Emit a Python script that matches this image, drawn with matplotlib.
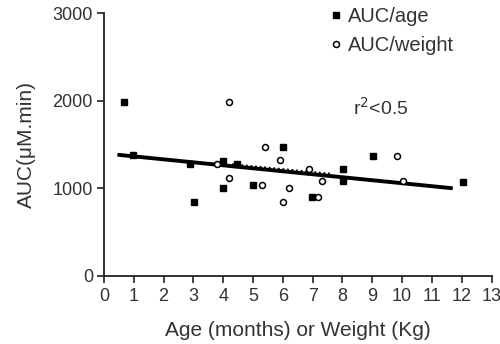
import matplotlib
matplotlib.use("Agg")
import matplotlib.pyplot as plt

plt.rcParams['font.family'] = ['Liberation Sans', 'DejaVu Sans']

# AUC vs age (filled squares)
age_x = [0.68, 0.98, 2.89, 3.02, 3.99, 3.99, 4.46, 5.0, 6.0, 6.98, 8.02, 8.02, 9.03, 12.05]
age_y = [1985, 1380, 1277, 844, 1311, 1003, 1277, 1038, 1471, 900, 1220, 1083, 1368, 1072]

# AUC vs weight (open circles)
wt_x = [4.19, 5.4, 5.9, 3.79, 4.19, 5.3, 6.2, 6.0, 6.88, 7.3, 7.18, 9.83, 10.03]
wt_y = [1985, 1471, 1320, 1277, 1117, 1038, 1003, 844, 1220, 1083, 900, 1368, 1083]

# regression lines
fit_x = [0.45, 11.7]
fit_y = [1383, 1000]
fit2_x = [4.3, 7.6]
fit2_y = [1268, 1160]

x_ticks = list(range(0, 14))
y_ticks = [0, 1000, 2000, 3000]

fig = plt.figure(figsize=(5.0, 3.44), dpi=100)
ax = fig.add_axes([0.208, 0.198, 0.775, 0.764])

txt = '#333333'
ax.plot(fit2_x, fit2_y, color='black', lw=2.2, linestyle=(0, (0.6, 0.9)), zorder=2)
ax.plot(fit_x, fit_y, color='black', lw=2.8, solid_capstyle='butt', zorder=3)
ax.plot(age_x, age_y, linestyle='none', marker='s', ms=5, color='black', zorder=4,
        label='AUC/age')
ax.plot(wt_x, wt_y, linestyle='none', marker='o', ms=4.3, mfc='white', mec='black',
        mew=1.1, zorder=5, label='AUC/weight')

ax.set_xlim(0, 13)
ax.set_ylim(0, 3000)
ax.set_xticks(x_ticks)
ax.set_yticks(y_ticks)
for s in ['top', 'right']:
    ax.spines[s].set_visible(False)
for s in ['left', 'bottom']:
    ax.spines[s].set_linewidth(1.3)
    ax.spines[s].set_color('#222222')
ax.tick_params(axis='both', labelsize=13, labelcolor=txt, width=1.2, length=5,
               color='#222222')
ax.tick_params(axis='x', pad=4)
ax.tick_params(axis='y', pad=3)

ax.set_xlabel('Age (months) or Weight (Kg)', fontsize=15, color=txt, labelpad=11)
ax.set_ylabel('AUC(\u03bcM.min)', fontsize=15, color=txt, labelpad=12)

ax.text(8.36, 1915, 'r$^2$<0.5', fontsize=14, color=txt, ha='left', va='center')

leg = ax.legend(loc='upper left', bbox_to_anchor=(0.565, 1.055), frameon=False,
                fontsize=14.5, handlelength=0.5, handletextpad=0.35, labelspacing=0.5,
                borderaxespad=0.0)
for t in leg.get_texts():
    t.set_color(txt)

fig.savefig('out.png', dpi=100)
